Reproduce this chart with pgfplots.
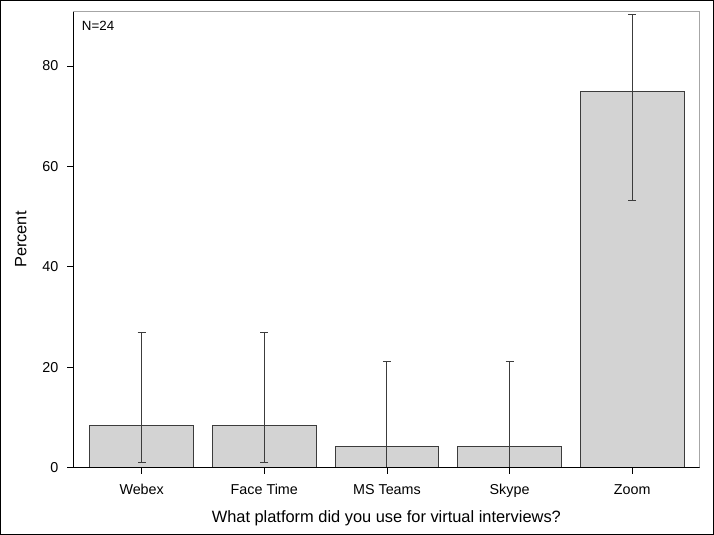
\documentclass[border=0pt]{standalone}
\usepackage{pgfplots}
\pgfplotsset{compat=1.18}
\usepackage{fontspec}
\setmainfont{Liberation Sans}
\definecolor{barfill}{RGB}{211,211,211}
\definecolor{edge}{RGB}{60,60,60}

\begin{document}
\begin{tikzpicture}
\useasboundingbox (0,0) rectangle (535.5pt,401.25pt);
\draw[black, line width=0.9pt] (0.6pt,0.6pt) rectangle (534.9pt,400.65pt);
\begin{axis}[
  at={(54.75pt,50.5pt)}, anchor=south west,
  scale only axis, width=470pt, height=342pt,
  xmin=-0.56, xmax=4.55, ymin=0, ymax=90.8,
  ybar, bar width=0.847,
  xtick={0,1,2,3,4},
  xticklabels={Webex, Face Time, MS Teams, Skype, Zoom},
  ytick={0,20,40,60,80},
  tick align=outside, xtick pos=bottom, ytick pos=left,
  major tick length=4.5pt,
  tick style={black, line width=0.6pt},
  axis line style={draw=gray!70, line width=0.6pt},
  ticklabel style={font=\fontsize{10.75}{12}\selectfont},
  xticklabel style={yshift=-4.5pt},
  yticklabel style={xshift=-3pt},
  /pgf/number format/assume math mode=true,
  xlabel={What platform did you use for virtual interviews?},
  ylabel={Percent},
  label style={font=\fontsize{12.3}{14}\selectfont},
  xlabel style={yshift=-3pt},
  ylabel style={yshift=5pt},
  error bars/y dir=both, error bars/y explicit,
  error bars/error bar style={edge, line width=0.7pt},
  error bars/error mark options={rotate=90, mark size=3pt, edge, line width=0.7pt},
]
\addplot[fill=barfill, draw=edge, line width=0.7pt]
coordinates {
  (0,8.33) += (0,18.67) -= (0,7.30)
  (1,8.33) += (0,18.67) -= (0,7.30)
  (2,4.17) += (0,16.95) -= (0,4.06)
  (3,4.17) += (0,16.95) -= (0,4.06)
  (4,75.0) += (0,15.2) -= (0,21.7)
};
\draw[black, line width=0.6pt] (rel axis cs:0,0) -- (rel axis cs:0,1);
\draw[black, line width=1.4pt] (rel axis cs:0,0) -- (rel axis cs:1,0);
\node[anchor=north west, font=\fontsize{10}{12}\selectfont, inner sep=0pt]
  at (rel axis cs:0,1) [xshift=6.5pt, yshift=-7pt] {N=24};
\end{axis}
\end{tikzpicture}
\end{document}
